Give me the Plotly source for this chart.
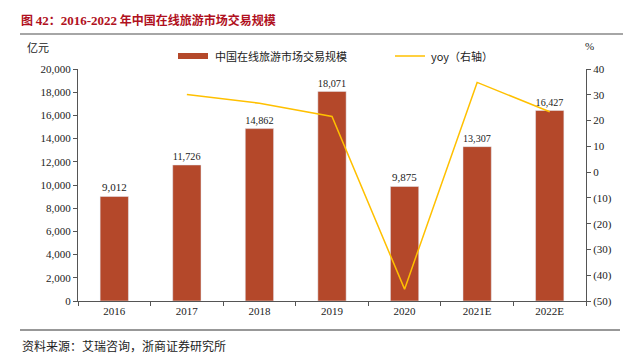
import plotly.graph_objects as go

categories = ["2016", "2017", "2018", "2019", "2020", "2021E", "2022E"]
market_size = [9012, 11726, 14862, 18071, 9875, 13307, 16427]
yoy = [None, 30.1, 26.7, 21.6, -45.4, 34.8, 23.4]
left_ticks = list(range(0, 20001, 2000))
right_ticks = list(range(-50, 41, 10))
right_labels = [f"({abs(v)})" if v < 0 else str(v) for v in right_ticks]
bar_name = "中国在线旅游市场交易规模"
line_name = "yoy（右轴）"

BAR = "#B4482A"
LINE = "#FFC000"
SERIF = "Liberation Serif, Times New Roman, serif"
CJK = "Noto Sans CJK SC"

L, R, T, B = 78, 586, 69, 301
PW, PH = R - L, B - T


def px(x):
    return (x - L) / PW


def py(y):
    return (B - y) / PH


fig = go.Figure()
fig.add_trace(go.Bar(
    x=categories, y=market_size, name=bar_name,
    marker_color=BAR, text=[f"{v:,}" for v in market_size],
    textposition="outside", textfont=dict(family=SERIF, size=11, color="#222"),
    cliponaxis=False, showlegend=False,
))
fig.add_trace(go.Scatter(
    x=categories, y=yoy, name=line_name, yaxis="y2", mode="lines",
    line=dict(color=LINE, width=1.5), connectgaps=False, showlegend=False,
))

fig.update_layout(
    width=623, height=360,
    margin=dict(l=L, r=623 - R, t=T, b=360 - B, autoexpand=False),
    plot_bgcolor="white", paper_bgcolor="white",
    bargap=0.61,
    showlegend=False,
    xaxis=dict(showline=True, linecolor="#555", linewidth=1, automargin=False,
               ticks="outside", tickson="boundaries", ticklen=4, tickcolor="#555",
               tickfont=dict(family=SERIF, size=11, color="#222")),
    yaxis=dict(range=[0, 20000], tickvals=left_ticks, tickformat=",",
               showline=True, linecolor="#555", linewidth=1, automargin=False,
               ticks="outside", ticklen=4, tickcolor="#555", showgrid=False,
               zeroline=False,
               tickfont=dict(family=SERIF, size=11, color="#222")),
    yaxis2=dict(range=[-50, 40], tickvals=right_ticks, ticktext=right_labels,
                overlaying="y", side="right", automargin=False,
                showline=True, linecolor="#555", linewidth=1,
                ticks="outside", ticklen=4, tickcolor="#555", showgrid=False,
                zeroline=False,
                tickfont=dict(family=SERIF, size=11, color="#222")),
)

# legend (manual, to match the wide bar key)
fig.add_shape(type="rect", xref="paper", yref="paper",
              x0=px(178), x1=px(208), y0=py(59), y1=py(53),
              fillcolor=BAR, line=dict(width=0))
fig.add_annotation(text=bar_name, xref="paper", yref="paper",
                   x=px(213), y=py(56), xanchor="left", yanchor="middle",
                   showarrow=False, font=dict(family=CJK, size=11, color="#222"))
fig.add_shape(type="line", xref="paper", yref="paper",
              x0=px(395), x1=px(425), y0=py(56), y1=py(56),
              line=dict(color=LINE, width=1.5))
fig.add_annotation(text=line_name, xref="paper", yref="paper",
                   x=px(429), y=py(56), xanchor="left", yanchor="middle",
                   showarrow=False, font=dict(family=CJK, size=11, color="#222"))

sf = f"font-family:{SERIF};font-size:13px"
title = (f"<b>图 <span style='{sf}'>42</span>：<span style='{sf}'>2016-2022</span>"
         " 年中国在线旅游市场交易规模</b>")
fig.add_annotation(text=title,
                   xref="paper", yref="paper", x=px(19), y=py(20),
                   xanchor="left", yanchor="middle", showarrow=False,
                   font=dict(family=CJK, size=12, color="#B01020"))
fig.add_shape(type="line", xref="paper", yref="paper",
              x0=px(20), x1=px(623), y0=py(34), y1=py(34),
              line=dict(color="#888", width=1.5))
fig.add_annotation(text="亿元", xref="paper", yref="paper",
                   x=px(38), y=py(47),
                   xanchor="center", yanchor="middle", showarrow=False,
                   font=dict(family=CJK, size=11, color="#222"))
fig.add_annotation(text="%", xref="paper", yref="paper",
                   x=px(589), y=py(46),
                   xanchor="center", yanchor="middle", showarrow=False,
                   font=dict(family=SERIF, size=11, color="#222"))
fig.add_shape(type="line", xref="paper", yref="paper",
              x0=px(20), x1=px(620), y0=py(330), y1=py(330),
              line=dict(color="#333", width=1.2))
fig.add_annotation(text="资料来源：艾瑞咨询，浙商证券研究所", xref="paper", yref="paper",
                   x=px(20), y=py(345), xanchor="left", yanchor="middle",
                   showarrow=False, font=dict(family=CJK, size=12, color="#222"))

fig.write_html("out.html", config={"displayModeBar": False},
               post_script="document.body.style.margin='0';document.body.style.padding='0';")
